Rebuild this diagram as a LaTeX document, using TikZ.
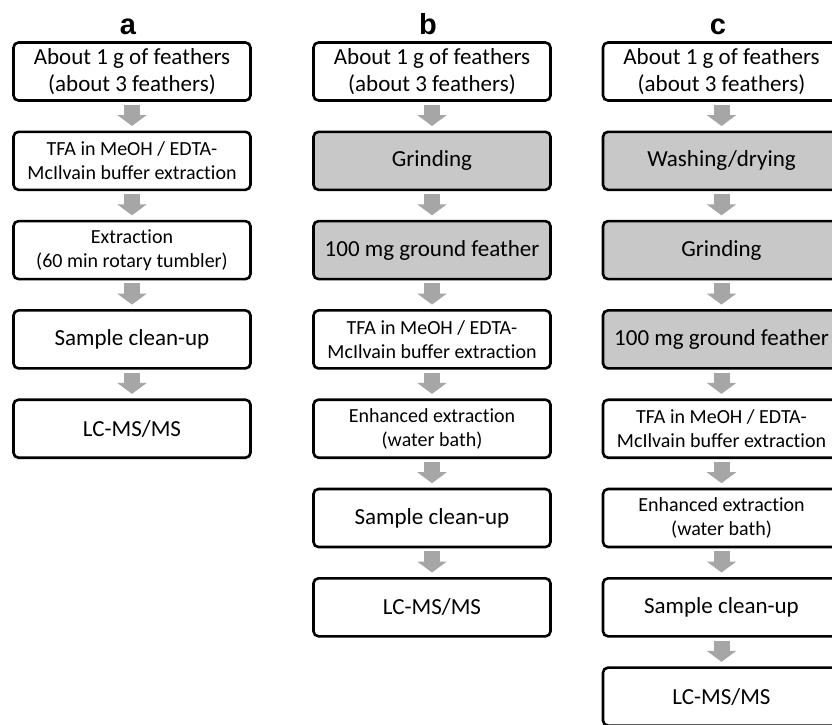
\documentclass[tikz,border=0pt]{standalone}
\usepackage{fontspec}
\setmainfont{Carlito}[Ligatures = NoCommon]
\newfontfamily\panelfont{Liberation Sans}
\usetikzlibrary{arrows.meta}

\definecolor{boxgray}{RGB}{200,200,200}
\definecolor{arrowgray}{RGB}{166,166,166}

\tikzstyle{stepbox} = [draw, line width = 2.6pt, rounded corners = 5pt, fill = white,
                       minimum width = 237pt, minimum height = 58pt, inner sep = 0pt,
                       align = center, font = \fontsize{23}{27}\selectfont]
\tikzstyle{shaded} = [fill = boxgray]
\tikzstyle{smalltext} = [font = \fontsize{20}{24}\selectfont]
\tikzstyle{flow} = [line width = 16pt, draw = arrowgray,
                    -{Triangle[width = 29pt, length = 11pt, fill = arrowgray]},
                    shorten < = 3pt, shorten > = 4.5pt]
\tikzstyle{panel} = [anchor = base, font = \panelfont\bfseries\fontsize{29}{29}\selectfont]

\begin{document}
\begin{tikzpicture}[x = 1pt, y = -1pt]
      \clip (0, 0) rectangle (832, 724);
      \fill[white] (0, 0) rectangle (832, 724);

      % panel letters
      \node[panel] (lbla) at (128, 34) {a};
      \node[panel] (lblb) at (428, 34) {b};
      \node[panel] (lblc) at (718, 34) {c};

      % a
      \node[stepbox] (a1) at (132, 71.5) {About 1 g of feathers\\(about 3 feathers)};
      \node[stepbox, smalltext] (a2) at (132, 160.8) {TFA in MeOH / EDTA-\\McIlvain buffer extraction};
      \node[stepbox, smalltext] (a3) at (132, 250.1) {Extraction\\(60 min rotary tumbler)};
      \node[stepbox] (a4) at (132, 339.4) {Sample clean-up};
      \node[stepbox] (a5) at (132, 428.7) {LC-MS/MS};
      % b
      \node[stepbox] (b1) at (432, 71.5) {About 1 g of feathers\\(about 3 feathers)};
      \node[stepbox, shaded] (b2) at (432, 160.8) {Grinding};
      \node[stepbox, shaded] (b3) at (432, 250.1) {100 mg ground feather};
      \node[stepbox, smalltext] (b4) at (432, 339.4) {TFA in MeOH / EDTA-\\McIlvain buffer extraction};
      \node[stepbox, smalltext] (b5) at (432, 428.7) {Enhanced extraction\\(water bath)};
      \node[stepbox] (b6) at (432, 518.0) {Sample clean-up};
      \node[stepbox] (b7) at (432, 607.3) {LC-MS/MS};
      % c
      \node[stepbox] (c1) at (721.5, 71.5) {About 1 g of feathers\\(about 3 feathers)};
      \node[stepbox, shaded] (c2) at (721.5, 160.8) {Washing/drying};
      \node[stepbox, shaded] (c3) at (721.5, 250.1) {Grinding};
      \node[stepbox, shaded] (c4) at (721.5, 339.4) {100 mg ground feather};
      \node[stepbox, smalltext] (c5) at (721.5, 428.7) {TFA in MeOH / EDTA-\\McIlvain buffer extraction};
      \node[stepbox, smalltext] (c6) at (721.5, 518.0) {Enhanced extraction\\(water bath)};
      \node[stepbox] (c7) at (721.5, 607.3) {Sample clean-up};
      \node[stepbox] (c8) at (721.5, 696.6) {LC-MS/MS};

      % Flow arrows
      \foreach \i/\j in {1/2, 2/3, 3/4, 4/5}
      {
        \draw[flow] (a\i) -- (a\j);
      }
      \foreach \i/\j in {1/2, 2/3, 3/4, 4/5, 5/6, 6/7}
      {
        \draw[flow] (b\i) -- (b\j);
      }
      \foreach \i/\j in {1/2, 2/3, 3/4, 4/5, 5/6, 6/7, 7/8}
      {
        \draw[flow] (c\i) -- (c\j);
      }
    \end{tikzpicture}
\end{document}
